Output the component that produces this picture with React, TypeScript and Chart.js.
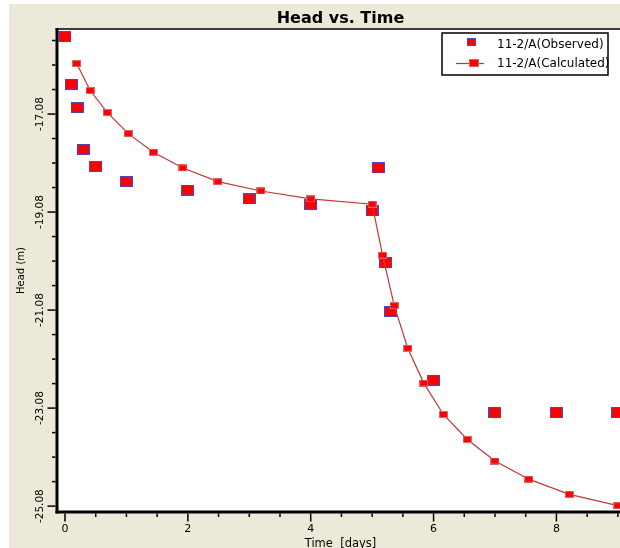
import { useEffect, useRef } from 'react';
import { Chart, registerables } from 'chart.js';

Chart.register(...registerables);

// ---- data ----
const obsTime = [0, 0.1, 0.2, 0.3, 0.5, 1, 2, 3, 4, 5, 5.1, 5.22, 5.3, 6, 7, 8, 9];
const obsHead = [-15.5, -16.47, -16.95, -17.8, -18.15, -18.46, -18.63, -18.81, -18.92, -19.05, -18.18, -20.11, -21.11, -22.51, -23.17, -23.17, -23.17];

const calcTime = [0.19, 0.41, 0.69, 1.03, 1.44, 1.92, 2.49, 3.19, 4.0, 5.0, 5.17, 5.36, 5.58, 5.84, 6.16, 6.55, 7.0, 7.55, 8.21, 9.0];
const calcHead = [-16.05, -16.6, -17.05, -17.48, -17.86, -18.18, -18.46, -18.65, -18.81, -18.92, -19.96, -20.99, -21.86, -22.57, -23.21, -23.72, -24.16, -24.53, -24.84, -25.07];

const xTickValues = [0, 0.5, 1, 1.5, 2, 2.5, 3, 3.5, 4, 4.5, 5, 5.5, 6, 6.5, 7, 7.5, 8, 8.5, 9];
const xTickLabels = ['0', '2', '4', '6', '8'];
const yTickValues = [-25.08, -24.58, -24.08, -23.58, -23.08, -22.58, -22.08, -21.58, -21.08, -20.58, -20.08, -19.58, -19.08, -18.58, -18.08, -17.58, -17.08, -16.58, -16.08, -15.58];
const yTickLabels = ['-25.08', '-23.08', '-21.08', '-19.08', '-17.08'];

const seriesLabels = ['11-2/A(Observed)', '11-2/A(Calculated)'];
const chartTitle = 'Head vs. Time';
const xTitle = 'Time  [days]';
const yTitle = 'Head (m)';

// ---- styles ----
const BEIGE = '#ECE9D8';
const RED = '#FF0000';
const OBS_BORDER = '#4848C8';
const CALC_BORDER = '#D86868';
const LINE = '#C03838';
const FONT = 'DejaVu Sans';

function makeMarker(w: number, h: number, fill: string, border: string) {
  const c = document.createElement('canvas');
  c.width = w;
  c.height = h;
  const g = c.getContext('2d')!;
  g.fillStyle = border;
  g.fillRect(0, 0, w, h);
  g.fillStyle = fill;
  g.fillRect(1, 1, w - 2, h - 2);
  return c;
}

function labelFor(v: number, labels: string[]) {
  const hit = labels.find((l) => Math.abs(parseFloat(l) - v) < 1e-6);
  return hit ?? '';
}

const framePlugin = {
  id: 'frame',
  beforeDraw(chart: any) {
    const { ctx, chartArea: a, width, height } = chart;
    ctx.save();
    ctx.fillStyle = BEIGE;
    ctx.fillRect(0, 0, width, height);
    ctx.fillStyle = '#FFFFFF';
    ctx.fillRect(a.left, a.top, a.right - a.left, a.bottom - a.top);
    ctx.restore();
  },
  beforeDatasetsDraw(chart: any) {
    const { ctx, chartArea: a } = chart;
    const xs = chart.scales.x;
    const ys = chart.scales.y;
    ctx.save();
    ctx.fillStyle = '#000';
    // frame
    ctx.fillRect(a.left - 1.5, a.top - 0.75, a.right - a.left + 1.5, 1.5);
    ctx.fillRect(a.right - 0.75, a.top, 1.5, a.bottom - a.top);
    ctx.fillRect(a.left - 1.5, a.top - 0.75, 3, a.bottom - a.top + 2.25);
    ctx.fillRect(a.left - 1.5, a.bottom - 1.5, a.right - a.left + 1.5, 3);
    // y tick marks
    ys.ticks.forEach((t: any) => {
      const py = ys.getPixelForValue(t.value);
      const len = t.label !== '' ? 8 : 3.5;
      ctx.fillRect(a.left - 1.5 - len, py - 0.75, len, 1.5);
    });
    // x tick marks
    xs.ticks.forEach((t: any) => {
      const px = xs.getPixelForValue(t.value);
      const len = t.label !== '' ? 8 : 3.5;
      ctx.fillRect(px - 0.75, a.bottom + 1.5, 1.5, len);
    });
    ctx.restore();
  },
  afterDraw(chart: any) {
    const { ctx } = chart;
    ctx.save();
    // legend box
    const bx = 433, by = 29, bw = 166, bh = 42;
    ctx.fillStyle = '#FFFFFF';
    ctx.fillRect(bx, by, bw, bh);
    ctx.strokeStyle = '#000';
    ctx.lineWidth = 1.5;
    ctx.strokeRect(bx, by, bw, bh);
    // row 1: observed
    ctx.fillStyle = OBS_BORDER;
    ctx.fillRect(458, 34, 9, 8);
    ctx.fillStyle = RED;
    ctx.fillRect(459, 35, 7, 6);
    // row 2: calculated
    ctx.strokeStyle = LINE;
    ctx.lineWidth = 1.2;
    ctx.beginPath();
    ctx.moveTo(447, 59.5);
    ctx.lineTo(475, 59.5);
    ctx.stroke();
    ctx.fillStyle = CALC_BORDER;
    ctx.fillRect(460, 55, 10, 8);
    ctx.fillStyle = RED;
    ctx.fillRect(461, 56, 8, 6);
    // texts
    ctx.fillStyle = '#000';
    ctx.font = `12px "${FONT}"`;
    ctx.textBaseline = 'middle';
    ctx.textAlign = 'left';
    ctx.fillText(seriesLabels[0], 488, 41);
    ctx.fillText(seriesLabels[1], 488, 60);
    ctx.restore();
  },
};

export default function App() {
  const ref = useRef<HTMLCanvasElement | null>(null);

  useEffect(() => {
    if (!ref.current) return;
    const obsImg = makeMarker(13, 11, RED, OBS_BORDER);
    const calcImg = makeMarker(9, 7, RED, CALC_BORDER);

    const chart = new Chart(ref.current, {
      type: 'scatter',
      data: {
        datasets: [
          {
            label: seriesLabels[1],
            data: calcTime.map((t, i) => ({ x: t, y: calcHead[i] })),
            showLine: true,
            borderColor: LINE,
            borderWidth: 1.2,
            backgroundColor: RED,
            pointStyle: calcImg as any,
            pointRadius: 5,
            order: 0,
          },
          {
            label: seriesLabels[0],
            data: obsTime.map((t, i) => ({ x: t, y: obsHead[i] })),
            showLine: false,
            backgroundColor: RED,
            borderColor: OBS_BORDER,
            pointStyle: obsImg as any,
            pointRadius: 7,
            order: 1,
          },
        ],
      },
      options: {
        animation: false,
        responsive: false,
        maintainAspectRatio: false,
        events: [],
        layout: { padding: { left: 0, right: 25, top: 0, bottom: 22 } },
        plugins: {
          legend: { display: false },
          tooltip: { enabled: false },
          title: {
            display: true,
            text: chartTitle,
            fullSize: false,
            color: '#000',
            font: { family: FONT, size: 16, weight: 'bold' },
            padding: { top: 5.5, bottom: 0.3 },
          },
        },
        scales: {
          x: {
            type: 'linear',
            min: -0.13,
            max: 9.1,
            afterBuildTicks: (s: any) => {
              s.ticks = xTickValues.map((v) => ({ value: v }));
            },
            afterFit: (s: any) => {
              s.height = 40;
            },
            ticks: {
              autoSkip: false,
              maxRotation: 0,
              minRotation: 0,
              padding: 3,
              color: '#000',
              font: { family: FONT, size: 11 },
              callback: (v: any) => labelFor(Number(v), xTickLabels),
            },
            grid: { display: false },
            border: { display: false },
            title: {
              display: true,
              text: xTitle,
              color: '#000',
              font: { family: FONT, size: 11.5 },
              padding: { top: 0, bottom: 1 },
            },
          },
          y: {
            type: 'linear',
            min: -25.2,
            max: -15.345,
            afterBuildTicks: (s: any) => {
              s.ticks = yTickValues.map((v) => ({ value: v }));
            },
            afterFit: (s: any) => {
              s.width = 48;
            },
            ticks: {
              autoSkip: false,
              minRotation: 90,
              maxRotation: 90,
              crossAlign: 'center',
              padding: -8,
              color: '#000',
              font: { family: FONT, size: 10.5 },
              callback: (v: any) => labelFor(Number(v), yTickLabels),
            },
            grid: { display: false },
            border: { display: false },
            title: {
              display: true,
              text: yTitle,
              color: '#000',
              font: { family: FONT, size: 10 },
              padding: { top: 6.7, bottom: 0 },
            },
          },
        },
      } as any,
      plugins: [framePlugin],
    });
    return () => chart.destroy();
  }, []);

  return (
    <div
      style={{
        position: 'fixed',
        left: 9,
        top: 4,
        width: 611,
        height: 544,
        overflow: 'hidden',
        background: BEIGE,
      }}
    >
      <canvas ref={ref} width={640} height={570} style={{ display: 'block' }} />
    </div>
  );
}
